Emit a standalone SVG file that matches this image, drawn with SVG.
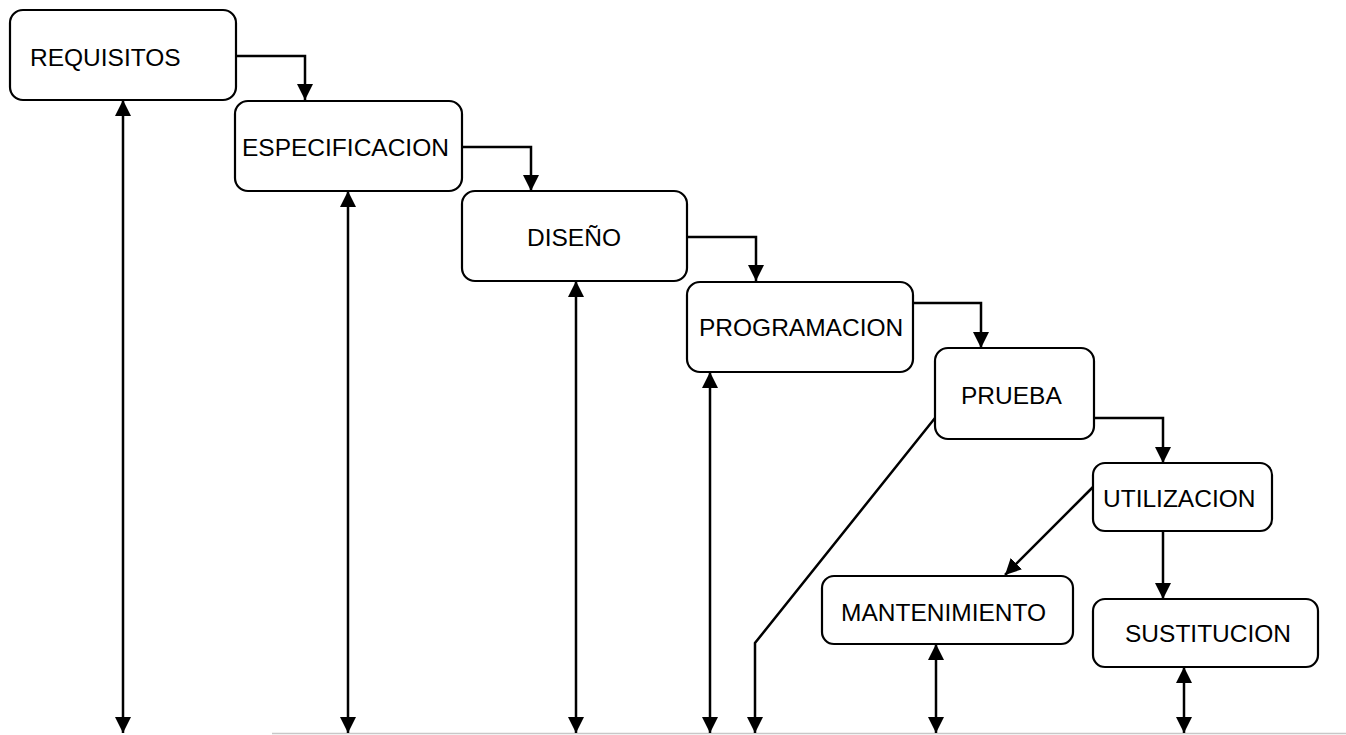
<svg xmlns="http://www.w3.org/2000/svg" width="1346" height="735" viewBox="0 0 1346 735">
  <style>
    .box { fill: #ffffff; stroke: #000000; stroke-width: 2.2; }
    .label { font-family: "Liberation Sans", Arial, sans-serif; font-size: 24.5px; fill: #000000; }
    .link { fill: none; stroke: #000000; stroke-width: 2.5; }
    .base { stroke: #c8c8c8; stroke-width: 1.5; }
  </style>
  <defs>
    <marker id="arrow" viewBox="0 0 16 16" refX="16" refY="8" markerWidth="16" markerHeight="16" markerUnits="userSpaceOnUse" orient="auto-start-reverse">
      <path d="M0,0 L16,8 L0,16 Z" fill="#000000"/>
    </marker>
  </defs>

  <rect width="1346" height="735" fill="#ffffff"/>

  <!-- baseline at the foot of the life cycle -->
  <line class="base" x1="272" y1="733.5" x2="1346" y2="733.5"/>

  <g id="connectors">
    <!-- cascade between phases -->
    <path class="link" d="M236,56 H305 V100" marker-end="url(#arrow)"/>
    <path class="link" d="M462,147 H531 V191" marker-end="url(#arrow)"/>
    <path class="link" d="M687,237 H756 V281" marker-end="url(#arrow)"/>
    <path class="link" d="M913,303 H981 V348" marker-end="url(#arrow)"/>
    <path class="link" d="M1094,418 H1163 V463" marker-end="url(#arrow)"/>
    <path class="link" d="M1163,531 V599" marker-end="url(#arrow)"/>
    <path class="link" d="M1093,487 L1005,575" marker-end="url(#arrow)"/>
    <!-- feedback to the baseline -->
    <path class="link" d="M935,418 L755,643 V733" marker-end="url(#arrow)"/>
    <line class="link" x1="123" y1="100" x2="123" y2="733" marker-start="url(#arrow)" marker-end="url(#arrow)"/>
    <line class="link" x1="348" y1="191" x2="348" y2="733" marker-start="url(#arrow)" marker-end="url(#arrow)"/>
    <line class="link" x1="576" y1="281" x2="576" y2="733" marker-start="url(#arrow)" marker-end="url(#arrow)"/>
    <line class="link" x1="710" y1="372" x2="710" y2="733" marker-start="url(#arrow)" marker-end="url(#arrow)"/>
    <line class="link" x1="936" y1="644" x2="936" y2="733" marker-start="url(#arrow)" marker-end="url(#arrow)"/>
    <line class="link" x1="1184" y1="667" x2="1184" y2="733" marker-start="url(#arrow)" marker-end="url(#arrow)"/>
  </g>

  <g id="requisitos">
    <rect class="box" x="10" y="10" width="226" height="90" rx="13"/>
    <text class="label" x="30" y="66">REQUISITOS</text>
  </g>
  <g id="especificacion">
    <rect class="box" x="235" y="101" width="227" height="90" rx="13"/>
    <text class="label" x="242" y="156">ESPECIFICACION</text>
  </g>
  <g id="diseno">
    <rect class="box" x="462" y="191" width="225" height="90" rx="13"/>
    <text class="label" x="527" y="246">DISEÑO</text>
  </g>
  <g id="programacion">
    <rect class="box" x="687" y="282" width="226" height="90" rx="13"/>
    <text class="label" x="699" y="336">PROGRAMACION</text>
  </g>
  <g id="prueba">
    <rect class="box" x="935" y="348" width="159" height="91" rx="13"/>
    <text class="label" x="961" y="404">PRUEBA</text>
  </g>
  <g id="utilizacion">
    <rect class="box" x="1093" y="463" width="179" height="68" rx="12"/>
    <text class="label" x="1103" y="507">UTILIZACION</text>
  </g>
  <g id="mantenimiento">
    <rect class="box" x="822" y="576" width="251" height="68" rx="12"/>
    <text class="label" x="841" y="621">MANTENIMIENTO</text>
  </g>
  <g id="sustitucion">
    <rect class="box" x="1093" y="599" width="225" height="68" rx="12"/>
    <text class="label" x="1125" y="642">SUSTITUCION</text>
  </g>
</svg>
